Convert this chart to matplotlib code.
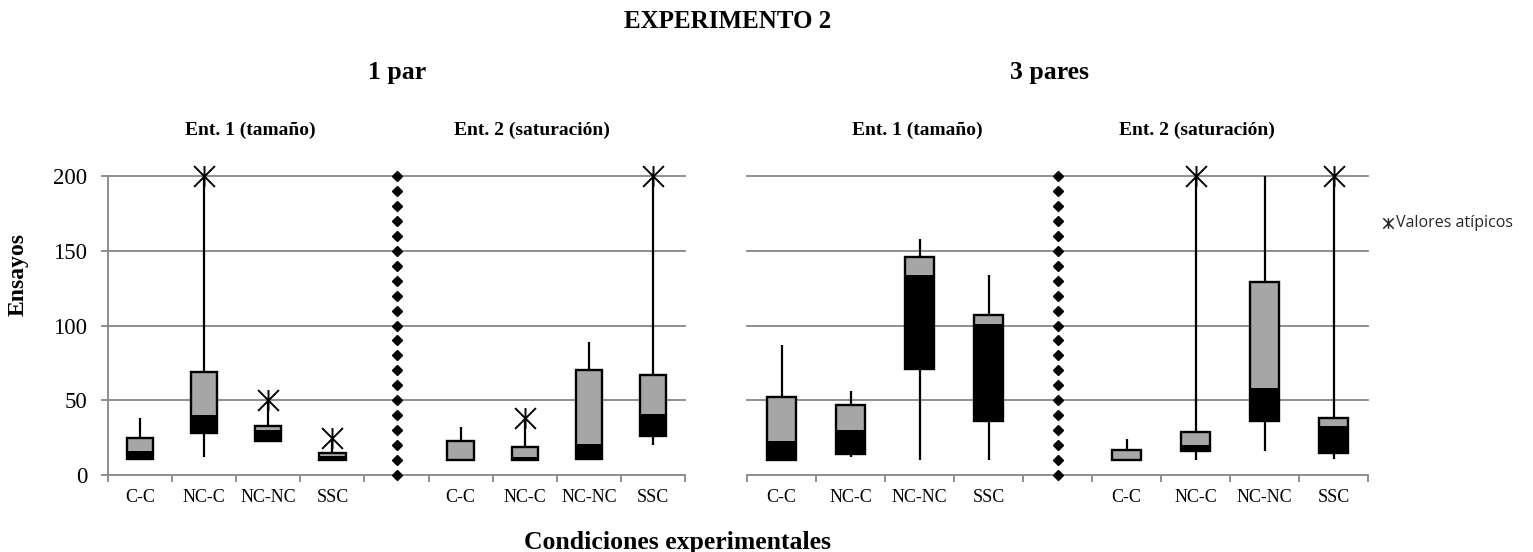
import numpy as np
import matplotlib
matplotlib.use("Agg")
import matplotlib.pyplot as plt
from matplotlib.path import Path

plt.rcParams['font.family'] = ['Liberation Serif', 'DejaVu Serif']

# categories (slot 4 in each panel is the empty separator)
cats = ["C-C", "NC-C", "NC-NC", "SSC"]
tick_labels = cats + [""] + cats

# 1 par -- Ent. 1 (tamaño) and Ent. 2 (saturación)
p1_min = [10, 12, 22, 10, 10, 10, 10, 20]
p1_q1 = [11, 28, 23, 10, 10, 10, 11, 26]
p1_med = [16, 40, 30, 13, 10, 12, 21, 41]
p1_q3 = [25, 69, 33, 15, 23, 19, 70, 67]
p1_max = [38, 200, 50, 25, 32, 38, 89, 200]
p1_out = [None, 200, 50, 25, None, 38, None, 200]

# 3 pares -- Ent. 1 (tamaño) and Ent. 2 (saturación)
p3_min = [10, 12, 10, 10, 10, 10, 16, 11]
p3_q1 = [10, 14, 71, 36, 10, 16, 36, 15]
p3_med = [23, 30, 134, 101, 11, 20, 58, 33]
p3_q3 = [52, 47, 146, 107, 17, 29, 129, 38]
p3_max = [87, 56, 158, 134, 24, 200, 200, 200]
p3_out = [None, None, None, None, None, 200, None, 200]

yticks = [0, 50, 100, 150, 200]
sep_dots = np.arange(0, 201, 10)

GRAY = '#a6a6a6'
AXC = '#868686'

# asterisk-like marker: an X with a vertical bar
star = Path([(-1, -1), (1, 1), (-1, 1), (1, -1), (0, -1), (0, 1)],
            [Path.MOVETO, Path.LINETO, Path.MOVETO, Path.LINETO, Path.MOVETO, Path.LINETO])

W, H = 1533, 552
fig = plt.figure(figsize=(W / 100, H / 100), dpi=100)


def panel(ax, mn, q1, md, q3, mx, out, show_y):
    xpos = [0, 1, 2, 3, 5, 6, 7, 8]
    ax.set_xlim(-0.5, 8.5)
    ax.set_ylim(0, 200)
    for y in yticks[1:]:
        ax.axhline(y, color=AXC, lw=1.3, zorder=0, clip_on=False)
    ax.vlines(xpos, mn, mx, color='black', lw=1.6, zorder=2)
    q1 = np.array(q1); md = np.array(md); q3 = np.array(q3)
    bw = 0.41
    ax.bar(xpos, md - q1, bottom=q1, width=bw, color='black', lw=0, zorder=3)
    ax.bar(xpos, q3 - md, bottom=md, width=bw, color=GRAY, lw=0, zorder=3)
    ax.bar(xpos, q3 - q1, bottom=q1, width=bw, fill=False, edgecolor='black', lw=1.7, zorder=4)
    for x, o in zip(xpos, out):
        if o is not None:
            ax.plot(x, o, marker=star, ms=15, mfc='none', mec='black', mew=1.4,
                    ls='none', zorder=5, clip_on=False)
    ax.plot([4] * len(sep_dots), sep_dots, ls='none', marker='D', ms=5.5,
            color='black', zorder=5, clip_on=False)

    for s in ['top', 'right']:
        ax.spines[s].set_visible(False)
    ax.spines['bottom'].set_color(AXC)
    ax.spines['bottom'].set_linewidth(1.3)
    ax.set_xticks(np.arange(-0.5, 9, 1))
    ax.set_xticklabels([])
    ax.set_xticks(np.arange(0, 9), minor=True)
    ax.set_xticklabels(tick_labels, minor=True, fontsize=13)
    ax.tick_params(axis='x', which='major', direction='out', length=5, color=AXC, width=1.3)
    ax.tick_params(axis='x', which='minor', length=0, pad=10)
    if show_y:
        ax.spines['left'].set_color(AXC)
        ax.spines['left'].set_linewidth(1.3)
        ax.set_yticks(yticks)
        ax.tick_params(axis='y', direction='out', length=5, color=AXC, width=1.3,
                       labelsize=16.5, pad=10)
    else:
        ax.spines['left'].set_visible(False)
        ax.set_yticks([])


ax1 = fig.add_axes([108 / W, 77 / H, 577 / W, 299 / H])
panel(ax1, p1_min, p1_q1, p1_med, p1_q3, p1_max, p1_out, True)
ax2 = fig.add_axes([747 / W, 77 / H, 621 / W, 299 / H])
panel(ax2, p3_min, p3_q1, p3_med, p3_q3, p3_max, p3_out, False)


def ftext(x, y, s, **kw):
    fig.text(x / W, 1 - y / H, s, ha='center', va='center', **kw)


ftext(728, 22, "EXPERIMENTO 2", fontsize=18, fontweight='bold')
ftext(397, 73, "1 par", fontsize=18.5, fontweight='bold')
ftext(1050, 73, "3 pares", fontsize=18.5, fontweight='bold')
ftext(250, 130, "Ent. 1 (tamaño)", fontsize=14, fontweight='bold')
ftext(532, 130, "Ent. 2 (saturación)", fontsize=14, fontweight='bold')
ftext(917, 130, "Ent. 1 (tamaño)", fontsize=14, fontweight='bold')
ftext(1197, 130, "Ent. 2 (saturación)", fontsize=14, fontweight='bold')
ftext(677, 543, "Condiciones experimentales", fontsize=18.5, fontweight='bold')
ftext(18, 274, "Ensayos", fontsize=17, fontweight='bold', rotation=90)

# legend entry for outliers
fig.lines.append(plt.Line2D([1388 / W], [1 - 223 / H], marker=star, ms=7.5, mfc='none',
                            mec='#262626', mew=1.1, ls='none', transform=fig.transFigure))
fig.text(1396 / W, 1 - 223 / H, "Valores atípicos", ha='left', va='center',
         fontsize=11.5, family=['Open Sans', 'DejaVu Sans'], color='#262626')

fig.savefig("out.png", dpi=100)
